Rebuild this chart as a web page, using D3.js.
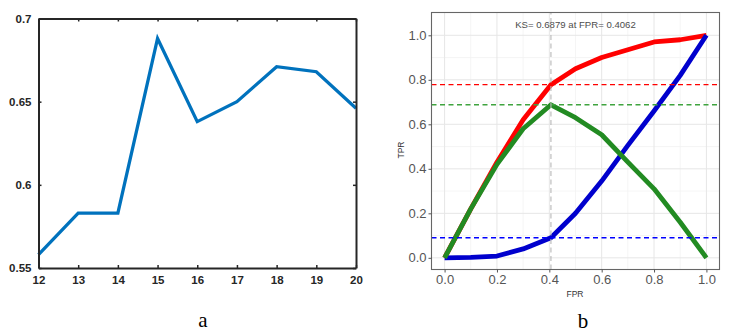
<meta charset="utf-8">
<html>
<script src="https://cdnjs.cloudflare.com/ajax/libs/d3/7.8.5/d3.min.js"></script>
<style>
body { margin: 0; background: #fff; }
svg text { font-family: Arial, "Liberation Sans", sans-serif; }
</style>
<body>
<svg id="chart" width="734" height="333"></svg>
<script type="text/javascript">

// ---------- panel a data ----------
var epochs = [12, 13, 14, 15, 16, 17, 18, 19, 20];
var scores = [0.558, 0.583, 0.583, 0.688, 0.638, 0.650, 0.671, 0.668, 0.646];
var aYTicks = [0.55, 0.6, 0.65, 0.7];
var aYLabels = ["0.55", "0.6", "0.65", "0.7"];

// ---------- panel b data ----------
var fpr   = [0, 0.1, 0.2, 0.3, 0.4062, 0.5, 0.6, 0.7, 0.8, 0.9, 1.0];
var tpr   = [0, 0.22, 0.43, 0.62, 0.778, 0.85, 0.9, 0.935, 0.97, 0.98, 1.0];
var blueY = [0, 0.002, 0.008, 0.04, 0.0901, 0.2, 0.345, 0.505, 0.66, 0.82, 1.0];
var diffY = [0, 0.22, 0.42, 0.58, 0.6879, 0.63, 0.553, 0.43, 0.31, 0.16, 0];
var ksValue = 0.6879, ksFpr = 0.4062;
var hLines = [0.778, 0.6879, 0.0901];
var hColors = ["#ff0000", "#3ea33e", "#0000ff"];
var bTicks = [0, 0.2, 0.4, 0.6, 0.8, 1.0];
var bMinor = [0.1, 0.3, 0.5, 0.7, 0.9];

var svg = d3.select("#chart");

/////////////////////////////// PANEL A ///////////////////////////////
var xA = d3.scaleLinear().domain([12, 20]).range([38.5, 356]);
var yA = d3.scaleLinear().domain([0.55, 0.7]).range([268, 18.5]);

var gA = svg.append("g");

var lineA = d3.line()
	.x(function(d, i) { return xA(epochs[i]); })
	.y(function(d) { return yA(d); });

gA.append("path")
	.datum(scores)
	.attr("d", lineA)
	.attr("fill", "none")
	.attr("stroke", "#0072bd")
	.attr("stroke-width", 3.3)
	.attr("stroke-linejoin", "miter");

// box + inward ticks on all sides
gA.append("g").attr("transform", "translate(0," + yA(0.55) + ")")
	.call(d3.axisBottom(xA).tickValues(epochs).tickFormat(d3.format("d"))
		.tickSizeInner(-3).tickSizeOuter(0).tickPadding(8));
gA.append("g").attr("transform", "translate(" + xA(12) + ",0)")
	.call(d3.axisLeft(yA).tickValues(aYTicks).tickFormat(function(d, i) { return aYLabels[i]; })
		.tickSizeInner(-3).tickSizeOuter(0).tickPadding(7));
gA.append("g").attr("transform", "translate(0," + yA(0.7) + ")")
	.call(d3.axisTop(xA).tickValues(epochs).tickSizeInner(-3).tickSizeOuter(0).tickFormat(""));
gA.append("g").attr("transform", "translate(" + xA(20) + ",0)")
	.call(d3.axisRight(yA).tickValues(aYTicks).tickSizeInner(-3).tickSizeOuter(0).tickFormat(""));
gA.selectAll(".domain").attr("stroke", "#262626").attr("stroke-width", 2);
gA.selectAll(".tick line").attr("stroke", "#262626").attr("stroke-width", 1.5);
gA.selectAll(".tick text")
	.attr("fill", "#262626")
	.style("font-size", "11.5px")
	.style("font-weight", "bold");

svg.append("text")
	.attr("x", 203).attr("y", 327)
	.attr("text-anchor", "middle")
	.style("font-family", "'Liberation Serif', 'Times New Roman', serif")
	.style("font-size", "21px")
	.attr("fill", "#000")
	.text("a");

/////////////////////////////// PANEL B ///////////////////////////////
var xB = d3.scaleLinear().domain([-0.05, 1.05]).range([431.5, 719.5]);
var yB = d3.scaleLinear().domain([-0.0525, 1.1025]).range([269.5, 12.5]);

var gB = svg.append("g");

// minor grid
gB.selectAll("line.mx").data(bMinor).enter().append("line")
	.attr("x1", function(d) { return xB(d); }).attr("x2", function(d) { return xB(d); })
	.attr("y1", yB.range()[0]).attr("y2", yB.range()[1])
	.attr("stroke", "#f3f3f3").attr("stroke-width", 0.8);
gB.selectAll("line.my").data(bMinor).enter().append("line")
	.attr("y1", function(d) { return yB(d); }).attr("y2", function(d) { return yB(d); })
	.attr("x1", xB.range()[0]).attr("x2", xB.range()[1])
	.attr("stroke", "#f3f3f3").attr("stroke-width", 0.8);
// major grid
gB.selectAll("line.Mx").data(bTicks).enter().append("line")
	.attr("x1", function(d) { return xB(d); }).attr("x2", function(d) { return xB(d); })
	.attr("y1", yB.range()[0]).attr("y2", yB.range()[1])
	.attr("stroke", "#e6e6e6").attr("stroke-width", 1);
gB.selectAll("line.My").data(bTicks).enter().append("line")
	.attr("y1", function(d) { return yB(d); }).attr("y2", function(d) { return yB(d); })
	.attr("x1", xB.range()[0]).attr("x2", xB.range()[1])
	.attr("stroke", "#e6e6e6").attr("stroke-width", 1);

function curve(ys) {
	return d3.line()
		.x(function(d, i) { return xB(fpr[i]); })
		.y(function(d) { return yB(d); })(ys);
}

var curves = [
	{ys: tpr, color: "#ff0000"},
	{ys: blueY, color: "#0000cd"},
	{ys: diffY, color: "#228b22"}
];
gB.selectAll("path.curve").data(curves).enter().append("path")
	.attr("class", "curve")
	.attr("d", function(d) { return curve(d.ys); })
	.attr("fill", "none")
	.attr("stroke", function(d) { return d.color; })
	.attr("stroke-width", 4.8)
	.attr("stroke-linejoin", "round");

// dashed reference lines
gB.selectAll("line.h").data(hLines).enter().append("line")
	.attr("x1", xB.range()[0]).attr("x2", xB.range()[1])
	.attr("y1", function(d) { return yB(d); }).attr("y2", function(d) { return yB(d); })
	.attr("stroke", function(d, i) { return hColors[i]; })
	.attr("stroke-width", 1.3)
	.attr("stroke-dasharray", "5,3.5");
gB.append("line")
	.attr("x1", xB(ksFpr)).attr("x2", xB(ksFpr))
	.attr("y1", yB.range()[0]).attr("y2", yB.range()[1])
	.attr("stroke", "#b8b8b8")
	.attr("stroke-width", 1.1)
	.attr("stroke-dasharray", "5,3.5");

gB.append("text")
	.attr("x", xB(0.5)).attr("y", yB(1.05) + 3.5)
	.attr("text-anchor", "middle")
	.attr("fill", "#4d4d4d")
	.style("font-size", "9.6px")
	.text("KS= " + ksValue.toFixed(4) + " at FPR= " + ksFpr.toFixed(4));

// panel border
gB.append("rect")
	.attr("x", xB.range()[0]).attr("y", yB.range()[1])
	.attr("width", xB.range()[1] - xB.range()[0])
	.attr("height", yB.range()[0] - yB.range()[1])
	.attr("fill", "none")
	.attr("stroke", "#666")
	.attr("stroke-width", 1.1);

gB.append("g").attr("transform", "translate(0," + yB.range()[0] + ")")
	.call(d3.axisBottom(xB).tickValues(bTicks).tickFormat(d3.format(".1f")).tickSizeInner(3).tickSizeOuter(0).tickPadding(2));
gB.append("g").attr("transform", "translate(" + xB.range()[0] + ",0)")
	.call(d3.axisLeft(yB).tickValues(bTicks).tickFormat(d3.format(".1f")).tickSizeInner(3).tickSizeOuter(0).tickPadding(2));
gB.selectAll(".domain").remove();
gB.selectAll(".tick line").attr("stroke", "#555");
gB.selectAll(".tick text")
	.attr("fill", "#555")
	.style("font-size", "13px");

gB.append("text")
	.attr("x", 575).attr("y", 297)
	.attr("text-anchor", "middle")
	.attr("fill", "#333")
	.style("font-size", "8.5px")
	.text("FPR");
gB.append("text")
	.attr("transform", "translate(404,150) rotate(-90)")
	.attr("text-anchor", "middle")
	.attr("fill", "#333")
	.style("font-size", "8.5px")
	.text("TPR");

svg.append("text")
	.attr("x", 583).attr("y", 328)
	.attr("text-anchor", "middle")
	.style("font-family", "'Liberation Serif', 'Times New Roman', serif")
	.style("font-size", "21px")
	.attr("fill", "#000")
	.text("b");

</script>
</body>
</html>
